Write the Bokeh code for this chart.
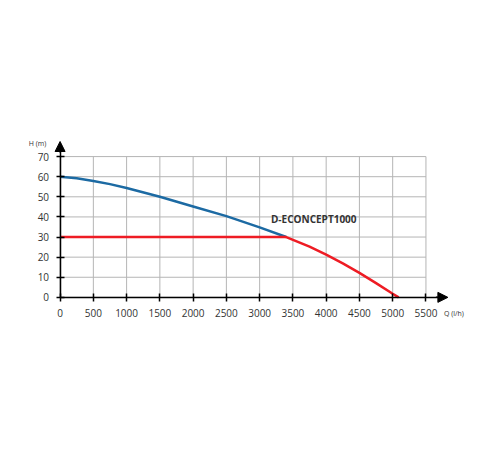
from bokeh.plotting import figure
from bokeh.models import Range1d, FixedTicker, Arrow, NormalHead, Label
from bokeh.embed import file_html
from bokeh.resources import INLINE

# data
q_ticks = [0, 500, 1000, 1500, 2000, 2500, 3000, 3500, 4000, 4500, 5000, 5500]
h_ticks = [0, 10, 20, 30, 40, 50, 60, 70]

pump_q = [0, 250, 500, 750, 1000, 1500, 2000, 2500, 3000, 3400]
pump_h = [60, 59.2, 57.9, 56.3, 54.4, 50.0, 45.2, 40.4, 34.8, 30]

op_q = [0, 3400, 3750, 4000, 4250, 4500, 4750, 5000, 5090]
op_h = [30, 30, 25.2, 21.2, 16.9, 12.2, 7.1, 1.8, 0]

model_name = "D-ECONCEPT1000"

FONT = "Open Sans"

p = figure(frame_width=447, frame_height=181, min_border_left=25, min_border_top=140,
           min_border_right=8, min_border_bottom=40,
           x_range=Range1d(-520, 6200), y_range=Range1d(-12, 78),
           output_backend="svg", toolbar_location=None)
p.outline_line_color = None
p.xgrid.visible = False
p.ygrid.visible = False
p.background_fill_color = "white"

# grid lines
p.segment(x0=q_ticks, x1=q_ticks, y0=[h_ticks[0]] * len(q_ticks), y1=[h_ticks[-1]] * len(q_ticks),
          line_color="#b5b5b5", line_width=1)
p.segment(x0=[q_ticks[0]] * len(h_ticks), x1=[q_ticks[-1]] * len(h_ticks), y0=h_ticks, y1=h_ticks,
          line_color="#b5b5b5", line_width=1)

# curves
p.line(pump_q, pump_h, line_color="#1c6aa3", line_width=2.5)
p.line(op_q, op_h, line_color="#ee1c24", line_width=2.5)

# axes
for ax, ticks in ((p.xaxis[0], q_ticks), (p.yaxis[0], h_ticks)):
    ax.ticker = FixedTicker(ticks=ticks)
    ax.fixed_location = 0
    ax.major_tick_in = 4
    ax.major_tick_out = 4
    ax.minor_tick_line_color = None
    ax.major_tick_line_color = "black"
    ax.major_tick_line_width = 1.5
    ax.axis_line_color = "black"
    ax.axis_line_width = 1.5
    ax.major_label_text_font = FONT
    ax.major_label_text_font_size = "10px"
    ax.major_label_text_color = "#333333"
p.xaxis[0].bounds = (0, 5750)
p.yaxis[0].bounds = (0, 73)
p.xaxis[0].major_label_standoff = 8
p.yaxis[0].major_label_standoff = 7

p.add_layout(Arrow(end=NormalHead(size=10, fill_color="black", line_color="black"),
                   x_start=5650, y_start=0, x_end=5830, y_end=0,
                   line_color="black", line_width=1.5))
p.add_layout(Arrow(end=NormalHead(size=10, fill_color="black", line_color="black"),
                   x_start=0, y_start=72, x_end=0, y_end=77.5,
                   line_color="black", line_width=1.5))

p.add_layout(Label(x=-470, y=76.5, text="H (m)", text_font=FONT, text_font_size="7px",
                   text_color="#333333", text_baseline="middle"))
p.add_layout(Label(x=5770, y=-8, text="Q (l/h)", text_font=FONT, text_font_size="7px",
                   text_color="#333333", text_baseline="middle"))
p.add_layout(Label(x=3170, y=39.2, text=model_name, text_font=FONT, text_font_size="10px",
                   text_font_style="bold", text_color="#333333", text_baseline="middle"))

open("out.html", "w").write(file_html(p, INLINE))
